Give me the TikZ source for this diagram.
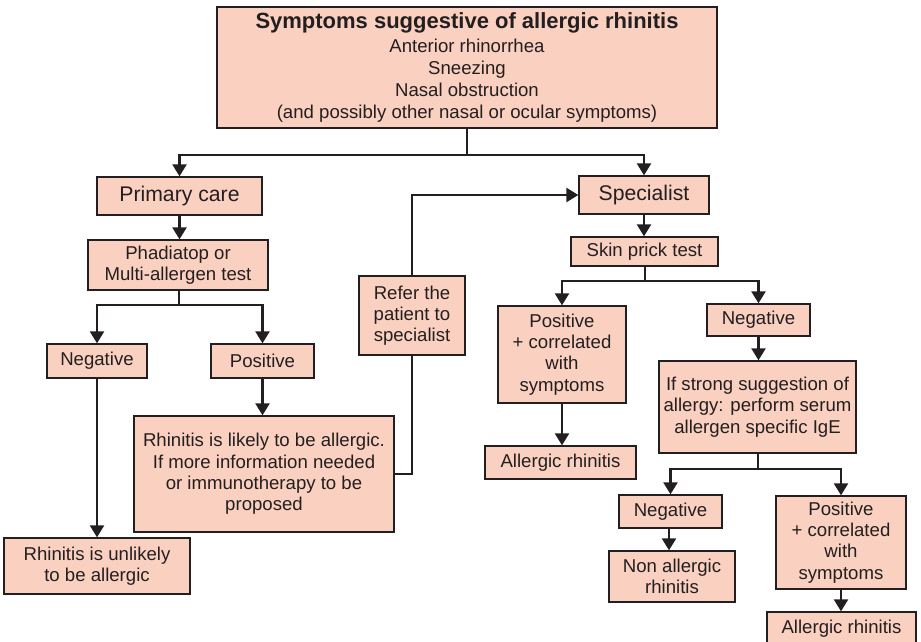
\documentclass[tikz,border=0pt]{standalone}
\usepackage{fontspec}
\setmainfont{Liberation Sans}
\usetikzlibrary{arrows.meta}
\definecolor{boxfill}{RGB}{250,208,192}
\definecolor{ink}{RGB}{35,31,32}
\newcommand\myBody{\fontsize{18.6}{21.3}\selectfont}
\newcommand\myTopBody{\fontsize{18.6}{21.8}\selectfont}
\newcommand\myBig{\fontsize{21.2}{24}\selectfont}
\newcommand\myTitle{\fontsize{22}{24}\selectfont\bfseries}
\tikzset{
  box/.style={draw=ink, fill=boxfill, line width=1.3pt, inner sep=0pt, align=center, text=ink, font=\myBody},
  conn/.style={draw=ink, line width=2.3pt},
  arr/.style={conn, -{Triangle[width=14pt,length=12pt]}},
}
\begin{document}
\begin{tikzpicture}[x=1pt,y=-1pt]
\useasboundingbox (0,0) rectangle (921,642);
% nodes
\node[box, font=\myTopBody, minimum width=500pt, minimum height=121pt] (top) at (467,67.5)
  {{\myTitle Symptoms suggestive of allergic rhinitis}\\[2pt]
   Anterior rhinorrhea\\ Sneezing\\ Nasal obstruction\\
   (and possibly other nasal or ocular symptoms)};
\node[box, font=\myBig, minimum width=165pt, minimum height=38pt] (primary) at (179.5,196) {Primary care};
\node[box, minimum width=180pt, minimum height=50pt] (phad) at (178,265) {Phadiatop or\\ Multi-allergen test};
\node[box, minimum width=100pt, minimum height=34pt] (negL) at (97,361) {Negative};
\node[box, minimum width=103pt, minimum height=34pt] (posL) at (262.5,361) {Positive};
\node[box, minimum width=260pt, minimum height=116pt] (likely) at (264,474)
  {Rhinitis is likely to be allergic.\\ If more information needed\\ or immunotherapy to be\\ proposed};
\node[box, minimum width=186pt, minimum height=56pt] (unlikely) at (97,566) {Rhinitis is unlikely\\ to be allergic};
\node[box, minimum width=106pt, minimum height=79pt] (refer) at (412,315.5) {Refer the\\ patient to\\ specialist};
\node[box, font=\myBig, minimum width=130pt, minimum height=38pt] (spec) at (644,195) {Specialist};
\node[box, minimum width=147pt, minimum height=29pt] (skin) at (644.5,251.5) {Skin prick test};
\node[box, minimum width=128pt, minimum height=97pt] (posR) at (562,354.5) {Positive\\ + correlated\\ with\\ symptoms};
\node[box, minimum width=103pt, minimum height=32pt] (negR) at (758.5,320) {Negative};
\node[box, minimum width=197pt, minimum height=92pt] (strong) at (757.5,407)
  {If strong suggestion of\\ allergy: perform serum\\ allergen specific IgE};
\node[box, minimum width=151pt, minimum height=33pt] (all1) at (560.5,462.5) {Allergic rhinitis};
\node[box, minimum width=103pt, minimum height=33pt] (negB) at (670.5,511.5) {Negative};
\node[box, minimum width=126pt, minimum height=51pt] (nonall) at (672,576.5) {Non allergic\\ rhinitis};
\node[box, minimum width=130pt, minimum height=93pt] (posB) at (841,542.5) {Positive\\ + correlated\\ with\\ symptoms};
\node[box, minimum width=149pt, minimum height=34pt] (all2) at (841.5,629) {Allergic rhinitis};
% junctions
\coordinate (j1) at (467,155);
\coordinate (j2) at (179,305);
\coordinate (j3) at (645,281);
\coordinate (j4) at (758,469);
% connectors
\draw[conn] (top.south) -- (j1);
\draw[arr] (j1) -| (primary.north);
\draw[arr] (j1) -| (spec.north);
\draw[arr] (primary.south) -- (primary.south |- phad.north);
\draw[conn] (phad.south -| j2) -- (j2);
\draw[arr] (j2) -| (negL.north);
\draw[arr] (j2) -| (posL.north);
\draw[arr] (negL.south) -- (negL.south |- unlikely.north);
\draw[arr] (posL.south) -- (posL.south |- likely.north);
\draw[conn] (likely.east) -| (refer.south);
\draw[arr] (refer.north) |- (spec.west);
\draw[arr] (spec.south) -- (spec.south |- skin.north);
\draw[conn] (skin.south -| j3) -- (j3);
\draw[arr] (j3) -| (posR.north);
\draw[arr] (j3) -| (negR.north);
\draw[arr] (posR.south) -- (posR.south |- all1.north);
\draw[arr] (negR.south) -- (negR.south |- strong.north);
\draw[conn] (strong.south -| j4) -- (j4);
\draw[arr] (j4) -| (negB.north);
\draw[arr] (j4) -| (posB.north);
\draw[arr] (negB.south -| 669,0) -- (nonall.north -| 669,0);
\draw[arr] (posB.south) -- (posB.south |- all2.north);
\end{tikzpicture}
\end{document}
